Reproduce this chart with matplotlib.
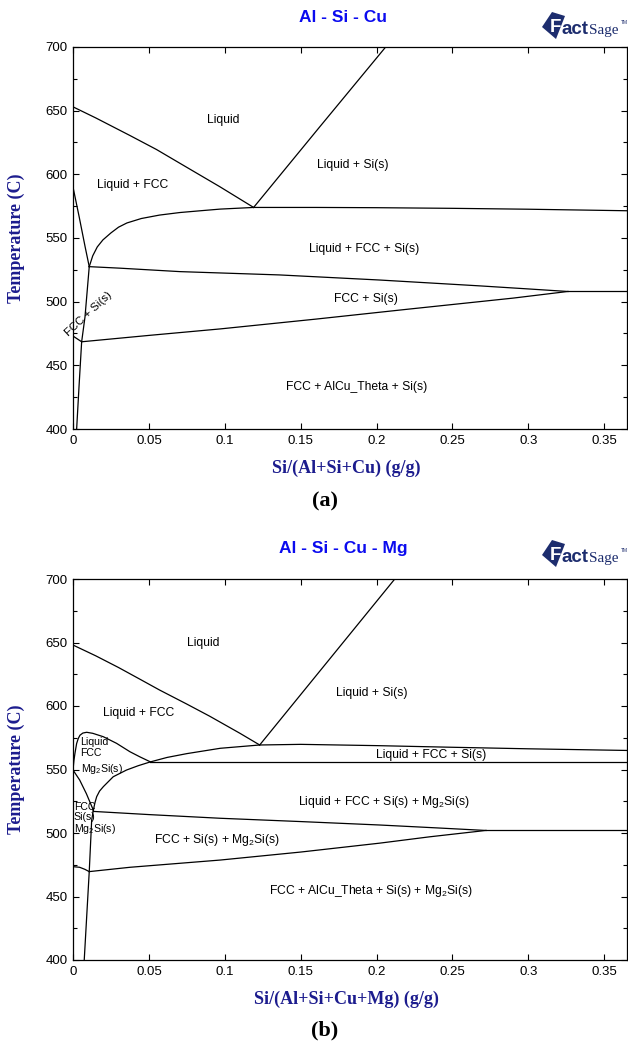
import matplotlib
matplotlib.use("Agg")
import matplotlib.pyplot as plt
from matplotlib.patches import Polygon
from matplotlib.ticker import MultipleLocator

plt.rcParams['font.family'] = ['Liberation Sans', 'DejaVu Sans']
plt.rcParams['mathtext.default'] = 'regular'

# ---------------- Al - Si - Cu ----------------
a_liq_fcc_x = [0.0, 0.015, 0.0375, 0.055, 0.0704, 0.0967, 0.119]
a_liq_fcc_t = [653, 644.3, 630.5, 619.5, 608.7, 590.3, 574]

a_liq_si_x = [0.119, 0.1625, 0.206]
a_liq_si_t = [574, 637.2, 700]

a_valley_x = [0.0107, 0.013, 0.016, 0.0197, 0.025, 0.03, 0.0355, 0.045, 0.057,
              0.0704, 0.085, 0.097, 0.119, 0.16, 0.2, 0.25, 0.3, 0.365]
a_valley_t = [527.5, 536, 543, 548.5, 554, 558.5, 561.8, 565.3, 568,
              570, 571.5, 572.7, 574, 574, 573.8, 573.3, 572.6, 571.4]

a_solidus_x = [0.0, 0.004, 0.008, 0.0107]
a_solidus_t = [590, 567, 543, 527.5]

a_solvus_x = [0.0107, 0.0079, 0.0057, 0.0040, 0.0024]
a_solvus_t = [527.5, 488, 468.5, 434, 400]

a_stub_x = [0.0, 0.0057]
a_stub_t = [473, 468.5]

a_upper_x = [0.0107, 0.031, 0.0704, 0.136, 0.202, 0.268, 0.3, 0.326]
a_upper_t = [527.5, 526.3, 523.6, 521, 517, 512.4, 510, 508]

a_lower_x = [0.0057, 0.05, 0.097, 0.16, 0.22, 0.29, 0.326]
a_lower_t = [468.5, 473.5, 478.6, 486.3, 494, 502.8, 508]

a_iso_x = [0.326, 0.365]
a_iso_t = [508, 508]

a_labels = ['Liquid', 'Liquid + Si(s)', 'Liquid + FCC', 'Liquid + FCC + Si(s)',
            'FCC + Si(s)', 'FCC + AlCu_Theta + Si(s)']
a_label_x = [0.099, 0.184, 0.039, 0.192, 0.193, 0.187]
a_label_t = [642.5, 607, 592, 541, 502, 433]

# ---------------- Al - Si - Cu - Mg ----------------
b_liq_fcc_x = [0.0, 0.015, 0.03, 0.045, 0.057, 0.075, 0.09, 0.11, 0.123]
b_liq_fcc_t = [648, 639.5, 630.3, 620.5, 612.6, 601.5, 592, 578.5, 569.3]

b_liq_si_x = [0.123, 0.212]
b_liq_si_t = [569.3, 700]

b_valley_x = [0.0134, 0.0145, 0.0156, 0.0175, 0.02, 0.0265, 0.0353, 0.043, 0.051,
              0.062, 0.075, 0.097, 0.123, 0.15, 0.2, 0.25, 0.3, 0.365]
b_valley_t = [518, 524, 528.6, 533, 536.5, 544.3, 549.6, 553, 556,
              559.5, 562.5, 566.7, 569.3, 569.8, 568.8, 567.5, 566.3, 565]

b_dome_x = [0.0, 0.0006, 0.0013, 0.0024, 0.0035, 0.0046, 0.0065, 0.009, 0.013,
            0.02, 0.0287, 0.0375, 0.044, 0.051]
b_dome_t = [549.6, 557, 562.8, 570.5, 574.5, 577, 578.7, 579.3, 578.5,
            575.8, 570.6, 564, 560, 556]

b_dome_base_x = [0.0, 0.0044, 0.0088, 0.0134]
b_dome_base_t = [549.6, 541.7, 531, 518]

b_solvus_x = [0.0134, 0.0123, 0.0107, 0.0074]
b_solvus_t = [518, 510, 469.6, 400]

b_stub_x = [0.0, 0.0044, 0.0078, 0.0107]
b_stub_t = [473.5, 473, 471.4, 469.6]

b_flat_x = [0.051, 0.365]
b_flat_t = [556, 556]

b_upper_x = [0.0134, 0.05, 0.097, 0.15, 0.202, 0.24, 0.272]
b_upper_t = [517, 514.5, 511.6, 509, 506.3, 504, 502]

b_lower_x = [0.0107, 0.0375, 0.097, 0.15, 0.202, 0.235, 0.272]
b_lower_t = [469.6, 473, 478.7, 485, 492, 497, 502]

b_iso_x = [0.272, 0.365]
b_iso_t = [502, 502]

b_labels = ['Liquid', 'Liquid + Si(s)', 'Liquid + FCC', 'Liquid + FCC + Si(s)',
            'Liquid + FCC + Si(s) + Mg$_2$Si(s)', 'FCC + Si(s) + Mg$_2$Si(s)',
            'FCC + AlCu_Theta + Si(s) + Mg$_2$Si(s)']
b_label_x = [0.086, 0.197, 0.043, 0.236, 0.205, 0.095, 0.196]
b_label_t = [649.6, 610.5, 594.5, 561.4, 524.7, 494.5, 454.3]

# small stacked labels near x = 0
b_small1 = ['Liquid', 'FCC', 'Mg$_2$Si(s)']
b_small1_t = [571.9, 562.6, 550.2]
b_small2 = ['FCC', 'Si(s)', 'Mg$_2$Si(s)']
b_small2_t = [520.5, 512.8, 503.1]

W, H = 628, 1048
NAVY = '#1c1c8e'
TITLE_BLUE = '#0b0bef'
LOGO = '#1d2d6e'


def fx(x):
    return x / W


def fy(y):
    return 1 - y / H


def draw_logo(fig, dy):
    pts = [(542, 27 + dy), (552, 12 + dy), (565, 16 + dy), (556, 39 + dy)]
    poly = Polygon([(fx(a), fy(b)) for a, b in pts], closed=True,
                   transform=fig.transFigure, facecolor=LOGO, edgecolor='none')
    fig.patches.append(poly)
    fig.text(fx(550), fy(27 + dy), 'F', color='white', fontsize=13.5, weight='bold',
             ha='left', va='center')
    fig.text(fx(561), fy(34 + dy), 'act', color=LOGO, fontsize=13.5, weight='bold',
             ha='left', va='baseline')
    fig.text(fx(588.5), fy(34 + dy), 'Sage', color=LOGO, fontsize=11,
             family='Liberation Serif', ha='left', va='baseline')
    fig.text(fx(620.5), fy(24 + dy), 'TM', color=LOGO, fontsize=3.5,
             ha='left', va='baseline')


def style_axes(ax, xlabel):
    ax.set_xlim(0, 0.365)
    ax.set_ylim(400, 700)
    ax.yaxis.set_major_locator(MultipleLocator(50))
    ax.yaxis.set_minor_locator(MultipleLocator(25))
    ax.set_xticks([0, 0.05, 0.1, 0.15, 0.2, 0.25, 0.3, 0.35])
    ax.set_xticklabels(['0', '0.05', '0.1', '0.15', '0.2', '0.25', '0.3', '0.35'])
    ax.tick_params(which='both', direction='in', top=True, right=True,
                   labelsize=9.5, width=0.8, pad=4)
    ax.tick_params(which='major', length=4.5)
    ax.tick_params(which='minor', length=3)
    for sp in ax.spines.values():
        sp.set_linewidth(0.9)
    ax.set_xlabel(xlabel, family='Liberation Serif', weight='bold', fontsize=13,
                  color=NAVY)
    ax.set_ylabel('Temperature (C)', family='Liberation Serif', weight='bold',
                  fontsize=13, color=NAVY)
    ax.xaxis.set_label_coords(0.494, -0.081)
    ax.yaxis.set_label_coords(-0.086, 0.5)


fig = plt.figure(figsize=(6.28, 10.48), dpi=100)
ax1 = fig.add_axes([fx(73), fy(429), (627 - 73) / W, (429 - 47) / H])
ax2 = fig.add_axes([fx(73), fy(960), (627 - 73) / W, (960 - 579) / H])

lw = 0.9
for x, t in [(a_liq_fcc_x, a_liq_fcc_t), (a_liq_si_x, a_liq_si_t),
             (a_valley_x, a_valley_t), (a_solidus_x, a_solidus_t),
             (a_solvus_x, a_solvus_t), (a_stub_x, a_stub_t),
             (a_upper_x, a_upper_t), (a_lower_x, a_lower_t), (a_iso_x, a_iso_t)]:
    ax1.plot(x, t, color='black', lw=lw)

for lab, x, t in zip(a_labels, a_label_x, a_label_t):
    ax1.text(x, t, lab, fontsize=8.7, ha='center', va='center')
ax1.text(0.0099, 490.4, 'FCC + Si(s)', fontsize=8.2, ha='center', va='center',
         rotation=43)

for x, t in [(b_liq_fcc_x, b_liq_fcc_t), (b_liq_si_x, b_liq_si_t),
             (b_valley_x, b_valley_t), (b_dome_x, b_dome_t),
             (b_dome_base_x, b_dome_base_t), (b_solvus_x, b_solvus_t),
             (b_stub_x, b_stub_t), (b_flat_x, b_flat_t),
             (b_upper_x, b_upper_t), (b_lower_x, b_lower_t), (b_iso_x, b_iso_t)]:
    ax2.plot(x, t, color='black', lw=lw)

for lab, x, t in zip(b_labels, b_label_x, b_label_t):
    ax2.text(x, t, lab, fontsize=8.7, ha='center', va='center')
for lab, t in zip(b_small1, b_small1_t):
    ax2.text(0.005, t, lab, fontsize=7.6, ha='left', va='center')
for lab, t in zip(b_small2, b_small2_t):
    ax2.text(0.0005, t, lab, fontsize=7.6, ha='left', va='center')

style_axes(ax1, 'Si/(Al+Si+Cu) (g/g)')
style_axes(ax2, 'Si/(Al+Si+Cu+Mg) (g/g)')

fig.text(fx(343), fy(18), 'Al - Si - Cu', color=TITLE_BLUE, fontsize=12.5,
         weight='bold', ha='center', va='center')
fig.text(fx(343), fy(548), 'Al - Si - Cu - Mg', color=TITLE_BLUE, fontsize=12.5,
         weight='bold', ha='center', va='center')
draw_logo(fig, 0)
draw_logo(fig, 528)

fig.text(fx(325), fy(501), '(a)', family='Liberation Serif', weight='bold',
         fontsize=16, ha='center', va='center')
fig.text(fx(325), fy(1030), '(b)', family='Liberation Serif', weight='bold',
         fontsize=16, ha='center', va='center')

fig.savefig('out.png', dpi=100)
